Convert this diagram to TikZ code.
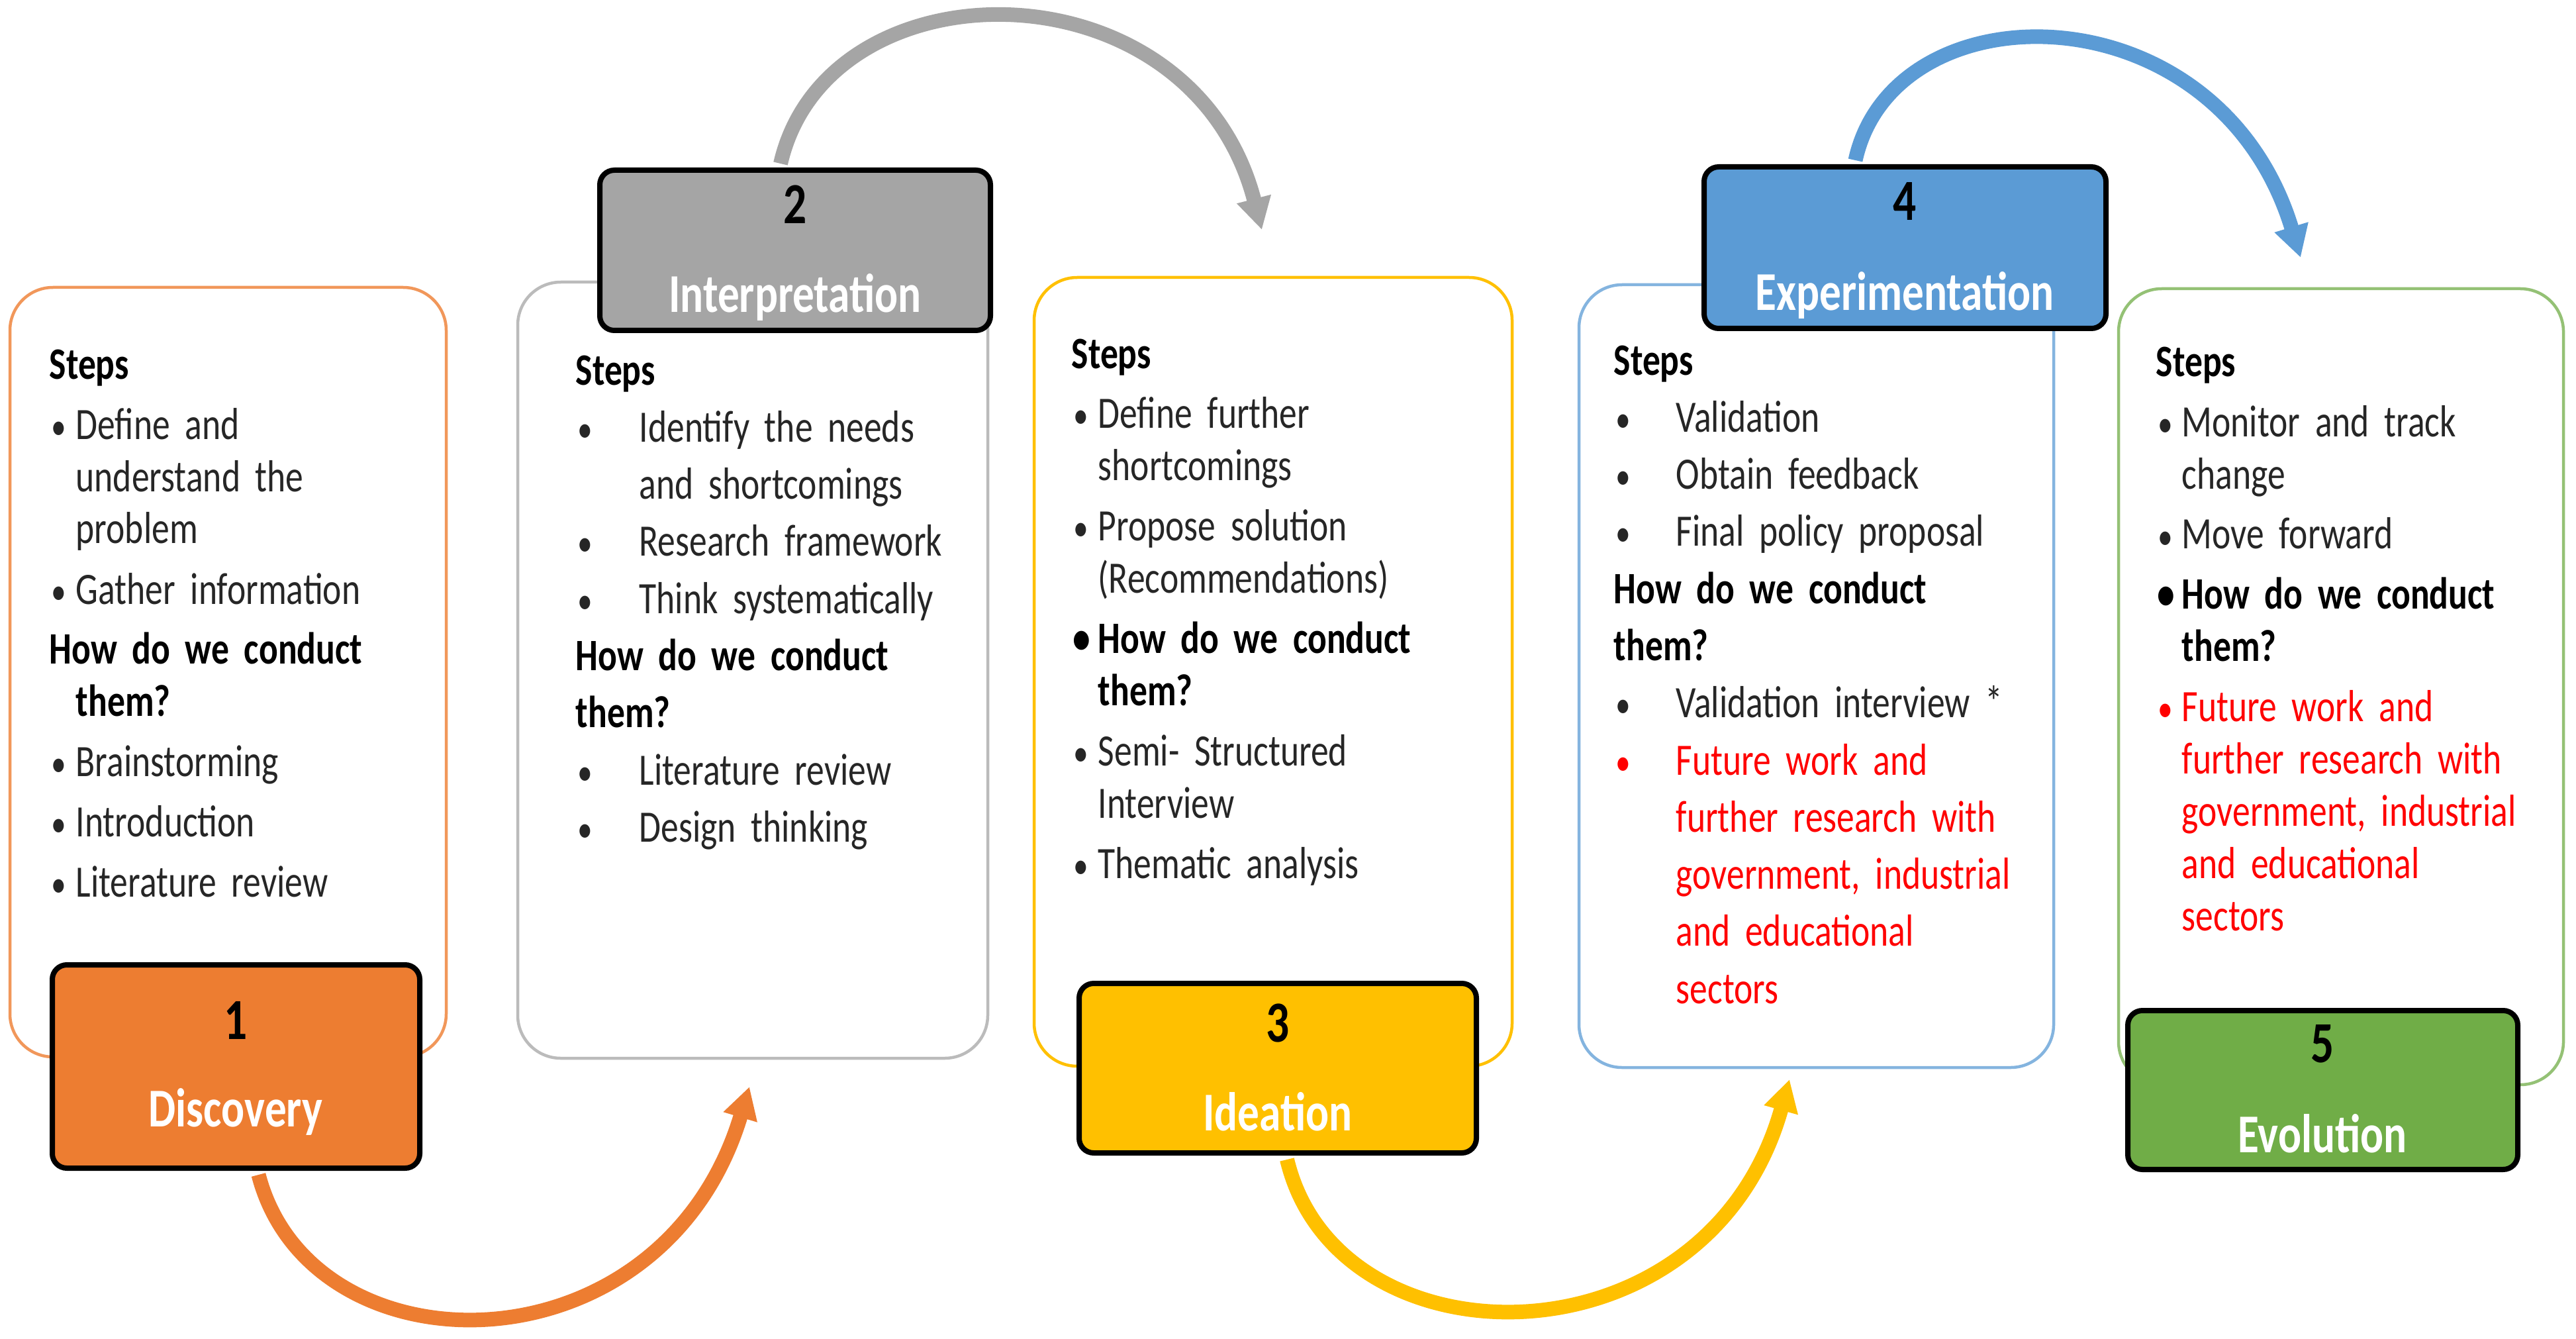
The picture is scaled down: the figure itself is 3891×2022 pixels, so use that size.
\documentclass[tikz,border=0pt]{standalone}
\usepackage{fontspec}
\setmainfont{Carlito}[FakeStretch=0.79]
\usepackage{xcolor}
\usepackage{tikz}
\usetikzlibrary{arrows.meta, calc}
\definecolor{DiscOrange}{HTML}{ED7D31}
\definecolor{InterGrey}{HTML}{A5A5A5}
\definecolor{IdeaGold}{HTML}{FFC000}
\definecolor{ExpBlue}{HTML}{5B9BD5}
\definecolor{EvoGreen}{HTML}{70AD47}
\newlength{\itmind}
\newcommand{\hd}[1]{{\color{black}\bfseries #1}}
\newcommand{\blt}[1]{\makebox[\itmind][l]{\hspace{0.3mm}\scalebox{0.85}{\textbullet}}#1}
\newcommand{\bblt}[1]{{\color{black}\bfseries\makebox[\itmind][l]{\hspace{0.2mm}\textbullet}#1}}
\newcommand{\cnt}[1]{\hspace*{\itmind}#1}
\newcommand{\rblt}[1]{{\color{red}\blt{#1}}}
\newcommand{\rcnt}[1]{{\color{red}\cnt{#1}}}

\begin{document}
\begin{tikzpicture}[x=0.1mm, y=-0.1mm, line cap=round,
	stepbox/.style={rounded corners=6.5mm, line width=0.45mm},
	labbox/.style={draw=black, line width=0.8mm, rounded corners=2.2mm, inner sep=0pt},
	numtxt/.style={anchor=base, inner sep=0pt, font=\fontsize{25}{30}\selectfont\bfseries, text=black},
	labtxt/.style={anchor=base, inner sep=0pt, font=\fontsize{23.5}{28}\selectfont\bfseries, text=white},
	steptxt/.style={anchor=base west, inner sep=0pt, text width=90mm, align=left, text=black!85,
		font=\fontsize{19.3}{7.9mm}\selectfont, execute at begin node={\setlength{\itmind}{#1}}},
	widetxt/.style={font=\fontsize{19.3}{8.63mm}\selectfont},
	flow/.style={line width=2.2mm, line cap=butt, -{Triangle[length=4.8mm, width=5mm]}}
	]

	\fill[white] (0,0) rectangle (3891,2022);
	\useasboundingbox (0,0) rectangle (3891,2022);

	% outline boxes
	\draw[stepbox, draw=DiscOrange!80] (15,434) rectangle (674,1596);
	\draw[stepbox, draw=InterGrey!75] (782,426) rectangle (1492,1598);
	\draw[stepbox, draw=IdeaGold] (1562,419) rectangle (2284,1610);
	\draw[stepbox, draw=ExpBlue!75] (2385,430) rectangle (3102,1612);
	\draw[stepbox, draw=EvoGreen!75] (3200,436) rectangle (3872,1638);

	\coordinate (tip1) at (1132,1641);
	\coordinate (tip2) at (1906,347);
	\coordinate (tip3) at (2703,1630);
	\coordinate (tip4) at (3475,389);

	\node[labbox, fill=DiscOrange, minimum width=55.5mm, minimum height=30.7mm] (lab1) at (356.5,1610.5) {};
	\node[labbox, fill=InterGrey, minimum width=59mm, minimum height=24.2mm] (lab2) at (1201,378) {};
	\node[labbox, fill=IdeaGold, minimum width=60mm, minimum height=25.6mm] (lab3) at (1930,1613) {};
	\node[labbox, fill=ExpBlue, minimum width=60.7mm, minimum height=24.4mm] (lab4) at (2877.5,374) {};
	\node[labbox, fill=EvoGreen, minimum width=58.9mm, minimum height=24mm] (lab5) at (3508.5,1646) {};

	% arrows between the stages
	\draw[flow, DiscOrange] ($(lab1.south)+(34,6)$) .. controls (470,2080) and (1000,2080) .. (tip1);
	\draw[flow, InterGrey] ($(lab2.north)+(-22,-6)$) .. controls (1250,-62) and (1800,-62) .. (tip2);
	\draw[flow, IdeaGold] ($(lab3.south)+(14,6)$) .. controls (2020,2070) and (2580,2070) .. (tip3);
	\draw[flow, ExpBlue] ($(lab4.north)+(-75,-6)$) .. controls (2860,-22) and (3350,-22) .. (tip4);

	\node[numtxt] (n1) at (356,1569) {1};
	\node[labtxt] (t1) at (356,1701) {Discovery};
	\node[numtxt] (n2) at (1201,338) {2};
	\node[labtxt] (t2) at (1201,472) {Interpretation};
	\node[numtxt] (n3) at (1930,1573) {3};
	\node[labtxt] (t3) at (1930,1707) {Ideation};
	\node[numtxt] (n4) at (2877,333) {4};
	\node[labtxt] (t4) at (2877,468) {Experimentation};
	\node[numtxt] (n5) at (3508,1604) {5};
	\node[labtxt] (t5) at (3508,1740) {Evolution};

	\node[steptxt=4mm] (s1) at (74,572) {\hd{Steps}\\[1.2mm]
		\blt{Define and}\\
		\cnt{understand the}\\
		\cnt{problem}\\[1.2mm]
		\blt{Gather information}\\[1.2mm]
		\hd{How do we conduct}\\
		\cnt{\hd{them?}}\\[1.2mm]
		\blt{Brainstorming}\\[1.2mm]
		\blt{Introduction}\\[1.2mm]
		\blt{Literature review}};

	\node[steptxt=9.6mm, widetxt] (s2) at (869,581) {\hd{Steps}\\
		\blt{Identify the needs}\\
		\cnt{and shortcomings}\\
		\blt{Research framework}\\
		\blt{Think systematically}\\
		\hd{How do we conduct}\\
		\hd{them?}\\
		\blt{Literature review}\\
		\blt{Design thinking}};

	\node[steptxt=4mm] (s3) at (1618,556) {\hd{Steps}\\[1.2mm]
		\blt{Define further}\\
		\cnt{shortcomings}\\[1.2mm]
		\blt{Propose solution}\\
		\cnt{(Recommendations)}\\[1.2mm]
		\bblt{How do we conduct}\\
		\cnt{\hd{them?}}\\[1.2mm]
		\blt{Semi- Structured}\\
		\cnt{Interview}\\[1.2mm]
		\blt{Thematic analysis}};

	\node[steptxt=9.4mm, widetxt] (s4) at (2437,566) {\hd{Steps}\\
		\blt{Validation}\\
		\blt{Obtain feedback}\\
		\blt{Final policy proposal}\\
		\hd{How do we conduct}\\
		\hd{them?}\\
		\blt{Validation interview *}\\
		\rblt{Future work and}\\
		\rcnt{further research with}\\
		\rcnt{government, industrial}\\
		\rcnt{and educational}\\
		\rcnt{sectors}};

	\node[steptxt=3.9mm] (s5) at (3256,568) {\hd{Steps}\\[1.2mm]
		\blt{Monitor and track}\\
		\cnt{change}\\[1.2mm]
		\blt{Move forward}\\[1.2mm]
		\bblt{How do we conduct}\\
		\cnt{\hd{them?}}\\[1.2mm]
		\rblt{Future work and}\\
		\rcnt{further research with}\\
		\rcnt{government, industrial}\\
		\rcnt{and educational}\\
		\rcnt{sectors}};

\end{tikzpicture}
\end{document}
